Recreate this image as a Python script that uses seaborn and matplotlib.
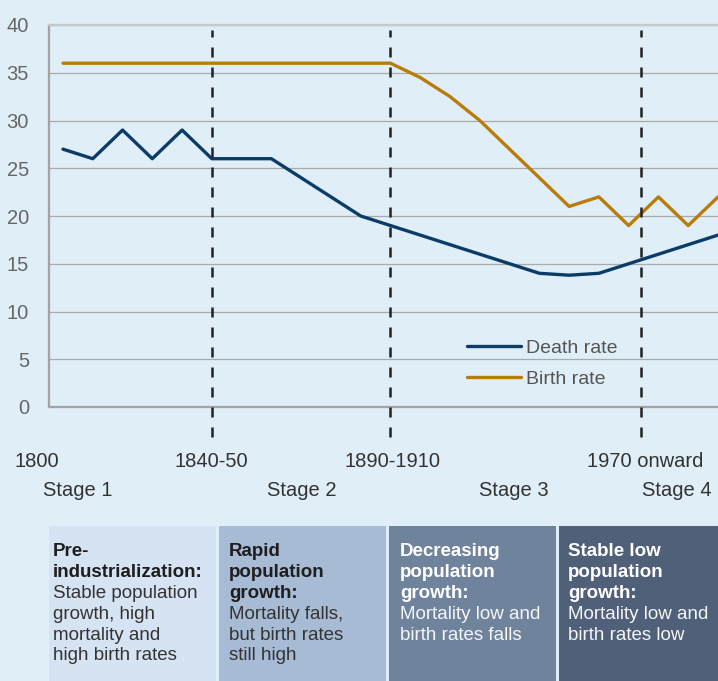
import matplotlib
matplotlib.use("Agg")
import matplotlib.pyplot as plt
from matplotlib.patches import Rectangle
import pandas as pd
import seaborn as sns

# ---------------- data ----------------
period_index = [0, 1, 2, 3, 4, 5, 6, 7, 8, 9, 10, 11, 12, 13, 14, 15, 16, 17, 18, 19, 20, 21, 22]
death_rate = [27, 26, 29, 26, 29, 26, 26, 26, 24, 22, 20, 19, 18, 17, 16, 15, 14, 13.8, 14, 15, 16, 17, 18]
birth_rate = [36, 36, 36, 36, 36, 36, 36, 36, 36, 36, 36, 36, 34.5, 32.5, 30, 27, 24, 21, 22, 19, 22, 19, 22]
series_names = ["Death rate", "Birth rate"]
y_ticks = [0, 5, 10, 15, 20, 25, 30, 35, 40]
period_labels = ["1800", "1840-50", "1890-1910", "1970 onward"]
stage_labels = ["Stage 1", "Stage 2", "Stage 3", "Stage 4"]
stage_titles = [
    ["Pre-", "industrialization:"],
    ["Rapid", "population", "growth:"],
    ["Decreasing", "population", "growth:"],
    ["Stable low", "population", "growth:"],
]
stage_texts = [
    ["Stable population", "growth, high", "mortality and", "high birth rates"],
    ["Mortality falls,", "but birth rates", "still high"],
    ["Mortality low and", "birth rates falls"],
    ["Mortality low and", "birth rates low"],
]

# ---------------- style ----------------
BG = "#dfeef7"
DEATH = "#0b3c68"
BIRTH = "#b97c0b"
BOX_COLORS = ["#d5e3f3", "#a7bbd5", "#6f849c", "#4f6078"]
TITLE_COLORS = ["#1e1e1e", "#1e1e1e", "#ffffff", "#ffffff"]
BODY_COLORS = ["#333333", "#333333", "#f4f6f8", "#f4f6f8"]

sns.set_style("white")
plt.rcParams["font.family"] = ["Liberation Sans", "DejaVu Sans"]

W, H = 718, 681
fig = plt.figure(figsize=(W / 100, H / 100), dpi=100, facecolor=BG)


def fx(px):
    return px / W


def fy(py):
    return 1 - py / H


AX_L, AX_T, AX_B = 49, 25, 407
ax = fig.add_axes([fx(AX_L), fy(AX_B), 1 - fx(AX_L), (AX_B - AX_T) / H])
ax.set_facecolor(BG)

df = pd.DataFrame({
    "period": period_index + period_index,
    "rate": death_rate + birth_rate,
    "series": [series_names[0]] * len(period_index) + [series_names[1]] * len(period_index),
})

sns.lineplot(data=df, x="period", y="rate", hue="series", hue_order=series_names,
             palette={series_names[0]: DEATH, series_names[1]: BIRTH},
             estimator=None, linewidth=2.4, solid_capstyle="round", ax=ax, zorder=2)

ax.set_xlim(-0.47, 22)
ax.set_ylim(0, 40)
ax.set_yticks(y_ticks)
ax.set_xticks([])
ax.set_xlabel("")
ax.set_ylabel("")
ax.tick_params(axis="y", length=0, pad=14.4, labelsize=14.5, labelcolor="#666666")
ax.grid(axis="y", color="#aaaaaa", linewidth=0.9)
ax.grid(axis="x", visible=False)
ax.set_axisbelow(True)
ax.spines["right"].set_visible(False)
ax.spines["top"].set_color("#c4c9cd")
ax.spines["top"].set_linewidth(1.6)
for s in ("left", "bottom"):
    ax.spines[s].set_color("#a3a3a3")
    ax.spines[s].set_linewidth(1.6)

# stage dividers
for xv in [5, 11, 19.4]:
    ax.axvline(xv, ymin=(AX_B - 437) / (AX_B - AX_T), ymax=(AX_B - 30) / (AX_B - AX_T),
               color="#222222", linewidth=1.8, dashes=(4, 4), clip_on=False, zorder=3)

# legend
handles, labels = ax.get_legend_handles_labels()
leg = ax.legend(handles, labels, loc="upper left", bbox_to_anchor=(fx(467), fy(339)),
                bbox_transform=fig.transFigure, frameon=False, fontsize=14,
                handlelength=2.78, handletextpad=0.26, labelspacing=0.72,
                borderpad=0, borderaxespad=0)
for t in leg.get_texts():
    t.set_color("#555555")
for lh in leg.get_lines():
    lh.set_linewidth(2.4)
    lh.set_solid_capstyle("round")

# period labels and stage labels
for lab, px in zip(period_labels, [37, 211, 393, 645]):
    fig.text(fx(px), fy(467), lab, ha="center", va="baseline", fontsize=14.5, color="#333333")
for lab, px in zip(stage_labels, [78, 302, 514, 677]):
    fig.text(fx(px), fy(496), lab, ha="center", va="baseline", fontsize=14.5, color="#333333")

# bottom description boxes
bx = fig.add_axes([0, 0, 1, (H - 526) / H])
bx.set_xlim(0, W)
bx.set_ylim(H, 526)
bx.axis("off")
box_edges = [(49, 216), (219, 386), (389, 556), (559, 718)]
text_left = [53, 229, 400, 568]
for i, (x0, x1) in enumerate(box_edges):
    bx.add_patch(Rectangle((x0, 526), x1 - x0, H - 526, facecolor=BOX_COLORS[i], edgecolor="none"))
    lines = [(t, "bold", TITLE_COLORS[i]) for t in stage_titles[i]] + \
            [(t, "normal", BODY_COLORS[i]) for t in stage_texts[i]]
    for j, (txt, wt, col) in enumerate(lines):
        bx.text(text_left[i], 556 + j * 20.9, txt, ha="left", va="baseline",
                fontsize=13.5, fontweight=wt, color=col)

fig.savefig("out.png", dpi=100, facecolor=BG)
